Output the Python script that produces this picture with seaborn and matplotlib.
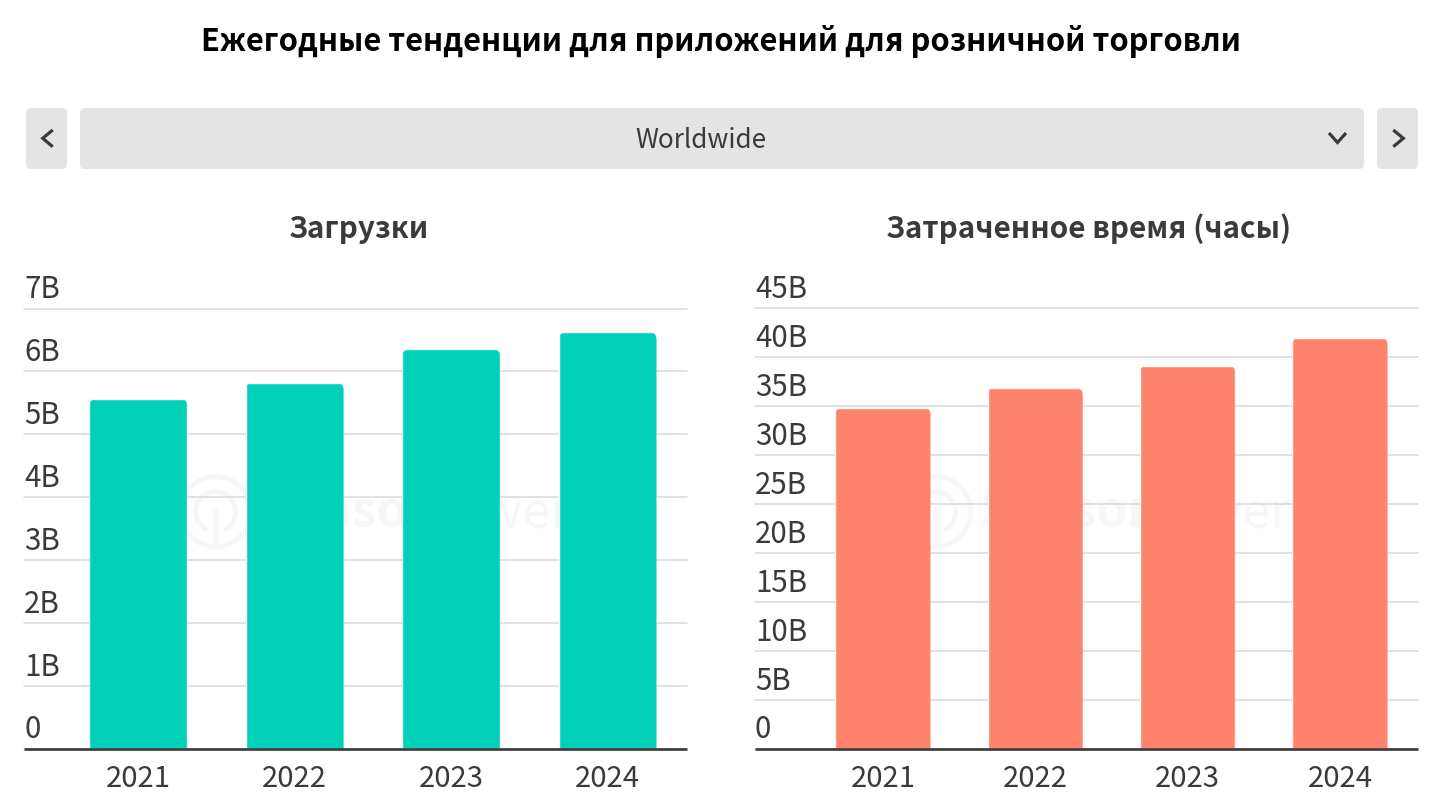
import matplotlib
matplotlib.use("Agg")
import matplotlib.pyplot as plt
import seaborn as sns
import pandas as pd
from matplotlib.patches import FancyBboxPatch, Circle, Arc
from matplotlib.transforms import ScaledTranslation, IdentityTransform

TITLE = "Ежегодные тенденции для приложений для розничной торговли"
SELECT = "Worldwide"
YEARS = ["2021", "2022", "2023", "2024"]
DL_TITLE = "Загрузки"
TIME_TITLE = "Затраченное время (часы)"
DOWNLOADS = [5.565, 5.82, 6.35, 6.62]
HOURS = [34.85, 36.85, 39.15, 42.0]
DL_TICKS = [0, 1, 2, 3, 4, 5, 6, 7]
DL_LABELS = ["0", "1B", "2B", "3B", "4B", "5B", "6B", "7B"]
TIME_TICKS = [0, 5, 10, 15, 20, 25, 30, 35, 40, 45]
TIME_LABELS = ["0", "5B", "10B", "15B", "20B", "25B", "30B", "35B", "40B", "45B"]

sns.set_theme(style="white")
FONT = ["Noto Sans CJK JP", "DejaVu Sans"]
plt.rcParams["font.family"] = FONT
W, H = 1440, 807
fig = plt.figure(figsize=(14.4, 8.07), dpi=100, facecolor="white")
DARK = "#3a3a3a"

bg = fig.add_axes([0, 0, 1, 1], zorder=-1)
bg.set_xlim(0, W); bg.set_ylim(H, 0); bg.axis("off")

def button(x0, x1):
    r = 5
    bg.add_patch(FancyBboxPatch((x0 + r, 108 + r), x1 - x0 - 2 * r, 61 - 2 * r,
                                boxstyle=f"round,pad={r},rounding_size={r}",
                                fc="#e4e4e4", ec="none"))
button(26, 67); button(80, 1364); button(1377, 1418)
for xs, ys in [([52.7, 42.7, 52.7], [130, 138.3, 146.7]),
               ([1393.3, 1403.3, 1393.3], [130, 138.3, 146.7]),
               ([1329, 1337.5, 1346], [133, 142.5, 133])]:
    bg.plot(xs, ys, color=DARK, lw=2.3, solid_joinstyle="miter", solid_capstyle="butt")
bg.text(721, 41.5, TITLE, ha="center", va="center", fontsize=22.23, fontweight="bold", color="black")
bg.text(701, 141, SELECT, ha="center", va="center", fontsize=18.8, color=DARK)
bg.text(358.5, 229, DL_TITLE, ha="center", va="center", fontsize=21.4, fontweight="bold", color=DARK)
bg.text(1088.5, 229, TIME_TITLE, ha="center", va="center", fontsize=21.35, fontweight="bold", color=DARK)

# faint watermark behind each chart
WM = "#f6f6f6"
for dx in (0, 720):
    cx, cy = 215.7 + dx, 511.7
    bg.add_patch(Circle((cx, cy), 35, fc="none", ec=WM, lw=3.5))
    bg.add_patch(Arc((cx, cy), 40, 40, theta1=115, theta2=425, ec=WM, lw=3.5))
    bg.plot([cx, cx], [512, 546], color=WM, lw=4)
    bg.add_patch(Circle((cx, cy), 3.5, fc=WM, ec="none"))
    bg.text(260 + dx, 513, "Sensor", ha="left", va="center", fontsize=36, fontweight="bold", color=WM)
    bg.text(423 + dx, 513, "Tower", ha="left", va="center", fontsize=36, color=WM)

def chart(x0, x1, values, ticks, labels, color, xlim):
    y0, y1 = 308.5, 749
    ax = fig.add_axes([x0 / W, (H - y1) / H, (x1 - x0) / W, (y1 - y0) / H])
    ax.patch.set_alpha(0)
    ax.set_axisbelow(True)
    df = pd.DataFrame({"year": YEARS, "value": values})
    sns.barplot(df, x="year", y="value", color=color, saturation=1, width=0.625, ax=ax)
    ax.set_xlim(*xlim)
    ax.set_ylim(0, ticks[-1])
    ax.set_xlabel(""); ax.set_ylabel("")
    ax.set_yticks(ticks, labels)
    ax.grid(axis="y", color="#d8d8d8", lw=1.1)
    ax.grid(axis="x", visible=False)
    for g in ax.get_ygridlines():
        g.set_clip_on(False)
    for s in ("left", "right", "top"):
        ax.spines[s].set_visible(False)
    ax.spines["bottom"].set_color(DARK)
    ax.spines["bottom"].set_linewidth(1.9)
    ax.spines["bottom"].set_capstyle("butt")
    ax.tick_params(axis="x", length=0, pad=11, labelsize=21.0, labelcolor=DARK)
    ax.tick_params(axis="y", length=0, pad=0, labelsize=21.2, labelcolor=DARK)
    shift = ScaledTranslation(0, 3.5 / 100, fig.dpi_scale_trans)
    for lab in ax.get_yticklabels():
        lab.set_ha("left"); lab.set_va("bottom")
        lab.set_transform(lab.get_transform() + shift)
    # rounded top corners: clip each bar with a rounded rectangle in pixels
    fig.canvas.draw()
    r = 7
    for bar in ax.patches:
        bb = bar.get_window_extent()
        clip = FancyBboxPatch((bb.x0 + r, bb.y0 - 20), bb.width - 2 * r, bb.height + 20 - r,
                              boxstyle=f"round,pad={r},rounding_size={r}",
                              transform=IdentityTransform())
        bar.set_clip_path(clip)
    return ax

chart(24, 686.5, DOWNLOADS, DL_TICKS, DL_LABELS, "#00d1b8", (-0.731, 3.504))
chart(755, 1417.5, HOURS, TIME_TICKS, TIME_LABELS, "#ff826c", (-0.84, 3.509))

fig.savefig("out.png", dpi=100)
